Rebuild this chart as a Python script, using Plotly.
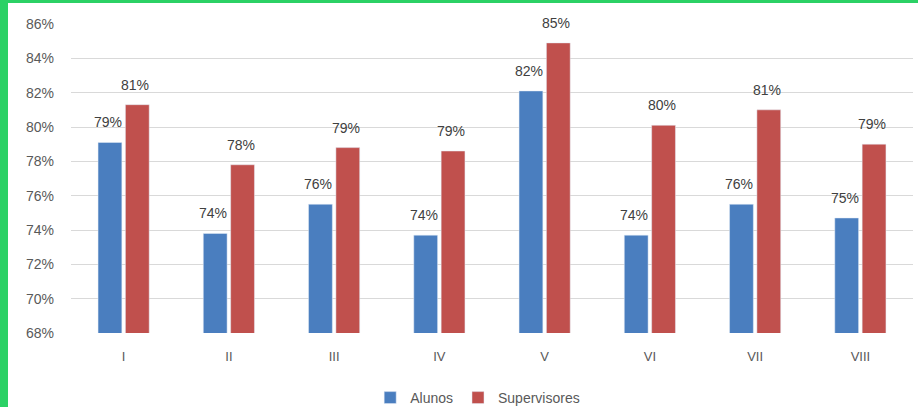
import plotly.graph_objects as go

# Survey results by dimension (percent agreement)
categories = ["I", "II", "III", "IV", "V", "VI", "VII", "VIII"]
alunos = [79.1, 73.8, 75.5, 73.7, 82.1, 73.7, 75.5, 74.7]
supervisores = [81.3, 77.8, 78.8, 78.6, 84.9, 80.1, 81.0, 79.0]
y_ticks = [68, 70, 72, 74, 76, 78, 80, 82, 84, 86]

BLUE = "#4A7EBF"
RED = "#C0504D"
TEXT = "#595959"
LABEL = "#404040"
FONT = "Liberation Sans, Arial, sans-serif"

W, H = 918, 407
ML, MR, MT, MB = 71, 5, 24, 74
PW, PH = W - ML - MR, H - MT - MB

fig = go.Figure()
fig.add_trace(go.Bar(name="Alunos", x=categories, y=alunos, marker_color=BLUE))
fig.add_trace(go.Bar(name="Supervisores", x=categories, y=supervisores, marker_color=RED))

# value labels above each bar
slot = PW / len(categories)
bargap = 0.48
half = slot * (1 - bargap) / 4
for series, shift in ((alunos, -half), (supervisores, half)):
    for cat, val in zip(categories, series):
        fig.add_annotation(
            x=cat, y=val, text=f"{val:.0f}%", showarrow=False,
            xshift=shift - 2, yshift=10, yanchor="bottom",
            font=dict(family=FONT, size=14, color=LABEL),
        )

# frame accents on the left and top edges
def px_x(p):
    return (p - ML) / PW

def px_y(p):
    return (H - MB - p) / PH

fig.add_shape(type="rect", xref="paper", yref="paper",
              x0=px_x(0), x1=px_x(8), y0=px_y(H), y1=px_y(0),
              fillcolor="#2BD165", line_width=0, layer="above")
fig.add_shape(type="rect", xref="paper", yref="paper",
              x0=px_x(0), x1=px_x(W), y0=px_y(3), y1=px_y(0),
              fillcolor="#2BD165", line_width=0, layer="above")

fig.update_layout(
    width=W, height=H,
    margin=dict(l=ML, r=MR, t=MT, b=MB, autoexpand=False),
    paper_bgcolor="white", plot_bgcolor="white",
    barmode="group", bargap=bargap, bargroupgap=0.13,
    font=dict(family=FONT, size=14, color=TEXT),
    showlegend=True,
    legend=dict(orientation="h", x=0.483, xanchor="center", y=px_y(398), yanchor="middle",
                font=dict(size=14, color=TEXT), itemwidth=30, traceorder="normal"),
)
fig.update_xaxes(showgrid=False, showline=False, ticks="", ticklabelstandoff=14,
                 automargin=False, tickfont=dict(size=13, color=TEXT))
fig.update_yaxes(range=[68, 86], tickvals=y_ticks, ticktext=[f"{v}%" for v in y_ticks],
                 showgrid=True, gridcolor="#D9D9D9", gridwidth=1, zeroline=False,
                 showline=False, ticks="", ticklabelstandoff=16, automargin=False,
                 tickfont=dict(size=14, color=TEXT))

fig.write_html("out.html")
